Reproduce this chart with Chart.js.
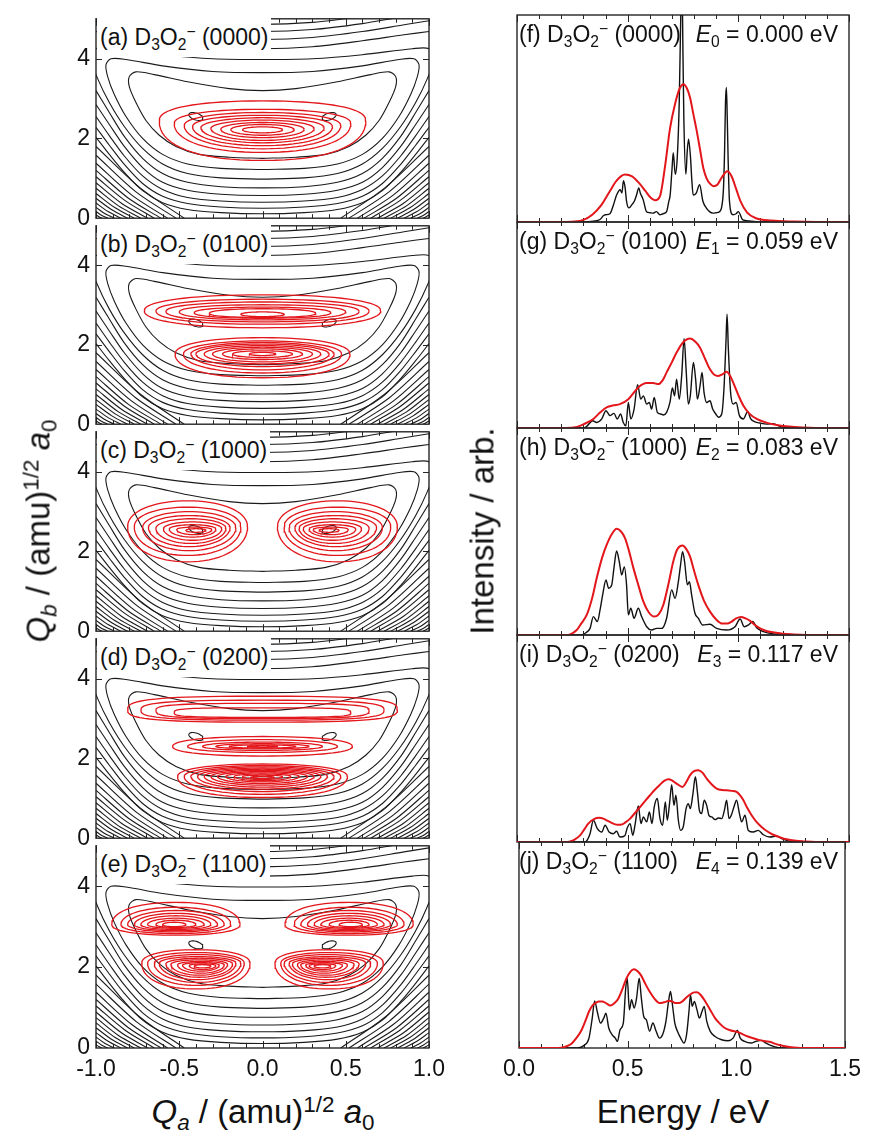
<!DOCTYPE html>
<html><head><meta charset="utf-8">
<script src="https://cdn.jsdelivr.net/npm/chart.js@4.4.1/dist/chart.umd.min.js"></script>
<style>
html,body{margin:0;padding:0;background:#fff;}
#fig{position:relative;width:869px;height:1137px;overflow:hidden;background:#fff;font-family:"Liberation Sans",Arial,Helvetica,sans-serif;color:#111;}
canvas{position:absolute;}
.lab{position:absolute;font-size:23px;line-height:23px;white-space:nowrap;}
.lab.box{background:#fff;}
.s{font-size:0.68em;position:relative;top:0.32em;}
.p{font-size:0.68em;position:relative;top:-0.5em;}
.title{position:absolute;font-size:33px;line-height:33px;white-space:nowrap;}
</style></head>
<body><div id="fig"></div>
<script>
const FONT = '"Liberation Sans", Arial, sans-serif';
// ---------- tick values and labels ----------
const qaMajor = [-1, -0.5, 0, 0.5, 1];
const qaLabels = ['-1.0', '-0.5', '0.0', '0.5', '1.0'];
const qaMinor = [-0.9,-0.8,-0.7,-0.6,-0.4,-0.3,-0.2,-0.1,0.1,0.2,0.3,0.4,0.6,0.7,0.8,0.9];
const qbMajor = [0, 2, 4];
const qbLabels = ['0', '2', '4'];
const eMajor = [0, 0.5, 1, 1.5];
const eLabels = ['0.0', '0.5', '1.0', '1.5'];
const eMinor = [0.1,0.2,0.3,0.4,0.6,0.7,0.8,0.9,1.1,1.2,1.3,1.4];

const leftLetters = ['(a)', '(b)', '(c)', '(d)', '(e)'];
const rightLetters = ['(f)', '(g)', '(h)', '(i)', '(j)'];
const stateLabels = ['(0000)', '(0100)', '(1000)', '(0200)', '(1100)'];
const energyIdx = ['0', '1', '2', '3', '4'];
const energyVals = ['0.000', '0.059', '0.083', '0.117', '0.139'];

// ---------- potential energy surface contours (black), left half ----------
const pesWellMin = [[-0.40, 2.55, 0.042, -0.06, 0.0072, 0.08]];
const pesClosed = [
  [[0,1.5],[-0.2,1.53],[-0.38,1.6],[-0.52,1.8],[-0.62,2.08],[-0.7,2.45],[-0.76,2.9],[-0.8,3.3],[-0.8,3.55],[-0.76,3.67],[-0.65,3.6],[-0.45,3.42],[-0.2,3.25],[0,3.2]],
  [[0,1.22],[-0.25,1.25],[-0.45,1.36],[-0.6,1.6],[-0.72,2.0],[-0.82,2.55],[-0.89,3.1],[-0.93,3.55],[-0.94,3.85],[-0.91,4.0],[-0.82,3.98],[-0.6,3.82],[-0.3,3.68],[0,3.65]],
  [[0,0.98],[-0.25,1.01],[-0.45,1.12],[-0.6,1.36],[-0.72,1.75],[-0.83,2.3],[-0.92,2.9],[-0.99,3.5],[-1.03,4.0],[-1.0,4.25],[-0.9,4.25],[-0.6,4.1],[-0.3,4.0],[0,3.98]]
];
const pesLowerArms = [
  [[0,0.76],[-0.25,0.79],[-0.45,0.9],[-0.6,1.12],[-0.72,1.5],[-0.83,2.05],[-0.92,2.65],[-1.0,3.2]],
  [[0,0.57],[-0.25,0.6],[-0.45,0.7],[-0.6,0.9],[-0.72,1.27],[-0.83,1.8],[-0.92,2.35],[-1.0,2.85]],
  [[0,0.40],[-0.25,0.43],[-0.45,0.52],[-0.6,0.72],[-0.72,1.06],[-0.83,1.56],[-0.92,2.07],[-1.0,2.55]],
  [[0,0.25],[-0.25,0.28],[-0.45,0.37],[-0.6,0.55],[-0.72,0.87],[-0.83,1.35],[-0.92,1.83],[-1.0,2.28]],
  [[0,0.11],[-0.25,0.14],[-0.45,0.22],[-0.6,0.39],[-0.72,0.69],[-0.83,1.15],[-0.92,1.6],[-1.0,2.03]]
];
const pesUpperArms = [
  [[0,4.25],[-0.3,4.3],[-0.6,4.45],[-0.85,4.6],[-1.0,4.68]],
  [[0,4.48],[-0.3,4.53],[-0.6,4.68],[-0.85,4.85],[-1.0,4.95]],
  [[0,4.68],[-0.3,4.73],[-0.6,4.88],[-0.8,5.02]],
  [[0,4.86],[-0.3,4.91],[-0.55,5.03]]
];
const pesCornerArms = [
  [[-0.47,0],[-0.735,0.76],[-1,1.80]],
  [[-0.52,0],[-0.76,0.66],[-1,1.58]],
  [[-0.57,0],[-0.785,0.58],[-1,1.38]],
  [[-0.61,0],[-0.805,0.50],[-1,1.20]],
  [[-0.65,0],[-0.825,0.44],[-1,1.04]],
  [[-0.69,0],[-0.845,0.37],[-1,0.89]],
  [[-0.73,0],[-0.865,0.31],[-1,0.75]],
  [[-0.77,0],[-0.885,0.26],[-1,0.62]],
  [[-0.81,0],[-0.905,0.21],[-1,0.50]],
  [[-0.85,0],[-0.925,0.16],[-1,0.38]],
  [[-0.89,0],[-0.945,0.11],[-1,0.27]],
  [[-0.93,0],[-0.965,0.07],[-1,0.17]],
  [[-0.965,0],[-0.982,0.035],[-1,0.08]]
];

// ---------- wavefunction contours (red): [cx, widest Qb, half width, top, bottom, shape exponent] ----------
const wfA = [
  [0,2.45,0.62,2.94,1.45,2.3],[0,2.38,0.53,2.73,1.65,2.2],[0,2.33,0.47,2.65,1.74,2.1],
  [0,2.30,0.42,2.58,1.82,2.1],[0,2.27,0.37,2.52,1.89,2],[0,2.25,0.31,2.46,1.95,2],
  [0,2.23,0.25,2.40,2.02,2],[0,2.22,0.19,2.35,2.08,2],[0,2.22,0.12,2.29,2.14,2]
];
const wfB = [
  [0,2.86,0.71,3.26,2.43,2.2],[0,2.85,0.64,3.15,2.52,2.2],[0,2.84,0.58,3.08,2.58,2.2],
  [0,2.83,0.50,3.01,2.63,2.2],[0,2.81,0.41,2.95,2.67,2.2],[0,2.79,0.32,2.91,2.69,2.2],
  [0,2.77,0.13,2.83,2.71,2],
  [0,1.77,0.525,2.18,1.17,2.2],[0,1.77,0.475,2.10,1.29,2.1],[0,1.77,0.43,2.06,1.37,2],
  [0,1.77,0.40,2.02,1.45,2],[0,1.77,0.35,1.98,1.52,2],[0,1.77,0.30,1.94,1.57,2],
  [0,1.77,0.24,1.90,1.63,2],[0,1.77,0.18,1.85,1.68,2],[0,1.77,0.08,1.81,1.73,2]
];
const wfC = [
  [-0.45,2.62,0.36,3.27,1.74,2.1],[-0.45,2.62,0.32,3.11,1.90,2.1],[-0.44,2.60,0.28,3.00,2.02,2],
  [-0.44,2.60,0.245,2.90,2.12,2],[-0.43,2.58,0.21,2.82,2.20,2],[-0.42,2.57,0.175,2.74,2.28,2],
  [-0.42,2.56,0.14,2.67,2.36,2],[-0.41,2.55,0.105,2.61,2.42,2],[-0.40,2.53,0.06,2.57,2.48,2]
];
const wfD = [
  [0,3.22,0.81,3.56,2.91,3],[0,3.21,0.73,3.46,2.96,3],[0,3.20,0.64,3.38,3.00,3.2],[0,3.15,0.53,3.27,3.03,3.5],
  [0,2.30,0.54,2.55,2.06,2.2],[0,2.30,0.45,2.47,2.15,2.1],[0,2.30,0.36,2.41,2.20,2],
  [0,2.30,0.28,2.37,2.24,2],[0,2.30,0.20,2.34,2.26,2],[0,2.30,0.09,2.32,2.28,2],
  [0,1.55,0.51,1.86,1.02,2.2],[0,1.55,0.47,1.82,1.10,2.1],[0,1.55,0.43,1.79,1.17,2],
  [0,1.55,0.39,1.76,1.23,2],[0,1.55,0.35,1.73,1.28,2],[0,1.55,0.31,1.70,1.33,2],
  [0,1.55,0.27,1.67,1.37,2],[0,1.55,0.22,1.64,1.41,2],[0,1.55,0.17,1.61,1.44,2],
  [0,1.55,0.12,1.58,1.47,2],[0,1.53,0.07,1.55,1.50,2]
];
const wfE = [
  [-0.52,3.05,0.385,3.60,2.79,2.2],[-0.52,3.05,0.33,3.48,2.83,2.1],[-0.52,3.05,0.29,3.40,2.87,2],
  [-0.52,3.05,0.25,3.33,2.90,2],[-0.52,3.05,0.21,3.27,2.93,2],[-0.52,3.05,0.17,3.21,2.96,2],
  [-0.52,3.05,0.12,3.16,2.98,2],[-0.53,3.05,0.07,3.11,3.00,2],
  [-0.40,2.10,0.325,2.43,1.46,2.2],[-0.40,2.10,0.29,2.36,1.55,2.1],[-0.39,2.10,0.26,2.31,1.62,2],
  [-0.39,2.10,0.23,2.26,1.69,2],[-0.38,2.08,0.20,2.22,1.75,2],[-0.38,2.07,0.17,2.18,1.80,2],
  [-0.37,2.06,0.14,2.14,1.85,2],[-0.37,2.05,0.11,2.11,1.90,2],[-0.36,2.04,0.08,2.08,1.94,2],
  [-0.36,2.03,0.05,2.06,1.98,2]
];
const wfMirror = [false, false, true, false, true];

// ---------- spectra [energy eV, intensity (panel height = 1)] ----------
const specFBlack = [[0,0],[0.30,0],[0.345,0.004],[0.375,0.012],[0.39,0.03],[0.40,0.035],[0.42,0.04],[0.435,0.08],[0.45,0.13],[0.466,0.156],[0.474,0.14],[0.481,0.2],[0.488,0.17],[0.495,0.1],[0.506,0.068],[0.52,0.085],[0.53,0.1],[0.54,0.13],[0.55,0.165],[0.557,0.14],[0.57,0.108],[0.585,0.05],[0.60,0.045],[0.615,0.043],[0.63,0.05],[0.646,0.035],[0.66,0.04],[0.676,0.05],[0.686,0.1],[0.692,0.13],[0.70,0.25],[0.706,0.335],[0.715,0.23],[0.724,0.31],[0.733,0.58],[0.74,1.0],[0.745,1.2],[0.75,0.8],[0.754,0.49],[0.763,0.23],[0.769,0.34],[0.775,0.40],[0.784,0.31],[0.79,0.2],[0.796,0.13],[0.81,0.14],[0.825,0.18],[0.84,0.1],[0.855,0.068],[0.87,0.05],[0.885,0.043],[0.90,0.045],[0.915,0.05],[0.926,0.08],[0.933,0.165],[0.938,0.35],[0.942,0.58],[0.946,0.65],[0.95,0.5],[0.954,0.3],[0.96,0.1],[0.975,0.035],[0.99,0.04],[1.00,0.05],[1.02,0.01],[1.05,0.005],[1.10,0],[1.5,0]];
const specFRed = [[0,0],[0.20,0],[0.26,0.002],[0.30,0.01],[0.34,0.035],[0.38,0.08],[0.42,0.15],[0.45,0.2],[0.488,0.229],[0.52,0.22],[0.55,0.19],[0.58,0.15],[0.60,0.122],[0.625,0.105],[0.646,0.125],[0.669,0.27],[0.691,0.45],[0.714,0.57],[0.735,0.645],[0.752,0.665],[0.768,0.645],[0.782,0.6],[0.797,0.52],[0.812,0.44],[0.827,0.35],[0.842,0.26],[0.857,0.21],[0.872,0.185],[0.887,0.173],[0.905,0.18],[0.925,0.215],[0.95,0.245],[0.97,0.22],[0.99,0.16],[1.01,0.1],[1.04,0.045],[1.08,0.018],[1.15,0.007],[1.25,0.002],[1.35,0],[1.5,0]];
const specGBlack = [[0,0],[0.30,0],[0.315,0.008],[0.342,0.035],[0.36,0.027],[0.383,0.044],[0.402,0.084],[0.42,0.06],[0.438,0.071],[0.453,0.044],[0.468,0.068],[0.48,0.027],[0.492,0.011],[0.503,0.124],[0.514,0.044],[0.529,0.092],[0.545,0.21],[0.559,0.14],[0.571,0.156],[0.586,0.116],[0.598,0.124],[0.608,0.092],[0.62,0.148],[0.634,0.076],[0.649,0.068],[0.661,0.063],[0.676,0.076],[0.691,0.124],[0.702,0.194],[0.712,0.156],[0.721,0.237],[0.733,0.14],[0.744,0.253],[0.755,0.434],[0.764,0.285],[0.774,0.116],[0.783,0.156],[0.797,0.318],[0.807,0.237],[0.815,0.14],[0.827,0.205],[0.836,0.27],[0.845,0.173],[0.857,0.124],[0.872,0.132],[0.884,0.092],[0.898,0.068],[0.91,0.052],[0.925,0.068],[0.935,0.189],[0.944,0.415],[0.949,0.552],[0.955,0.382],[0.965,0.173],[0.977,0.116],[0.99,0.124],[1.005,0.06],[1.023,0.044],[1.042,0.079],[1.056,0.044],[1.075,0.03],[1.098,0.024],[1.128,0.019],[1.158,0.021],[1.188,0.008],[1.233,0],[1.5,0]];
const specGRed = [[0,0],[0.22,0],[0.27,0.005],[0.30,0.018],[0.345,0.044],[0.375,0.075],[0.405,0.1],[0.435,0.11],[0.465,0.116],[0.503,0.14],[0.548,0.197],[0.586,0.218],[0.615,0.218],[0.639,0.213],[0.66,0.235],[0.676,0.27],[0.70,0.32],[0.721,0.366],[0.75,0.415],[0.782,0.434],[0.805,0.42],[0.827,0.39],[0.85,0.335],[0.872,0.285],[0.89,0.26],[0.91,0.253],[0.93,0.262],[0.947,0.273],[0.962,0.255],[0.977,0.22],[1.0,0.16],[1.023,0.108],[1.05,0.07],[1.083,0.044],[1.13,0.025],[1.173,0.015],[1.23,0.007],[1.29,0.003],[1.4,0],[1.5,0]];
const specHBlack = [[0,0],[0.292,0],[0.31,0.01],[0.33,0.032],[0.345,0.089],[0.363,0.065],[0.375,0.12],[0.387,0.194],[0.402,0.266],[0.414,0.226],[0.428,0.242],[0.438,0.323],[0.45,0.406],[0.462,0.355],[0.473,0.29],[0.485,0.329],[0.495,0.242],[0.503,0.097],[0.514,0.129],[0.529,0.081],[0.548,0.129],[0.563,0.089],[0.586,0.04],[0.608,0.024],[0.631,0.032],[0.654,0.032],[0.676,0.081],[0.699,0.218],[0.714,0.177],[0.729,0.258],[0.739,0.339],[0.748,0.403],[0.757,0.355],[0.77,0.242],[0.779,0.258],[0.789,0.194],[0.804,0.105],[0.819,0.081],[0.839,0.048],[0.872,0.052],[0.902,0.032],[0.947,0.024],[0.985,0.04],[1.008,0.077],[1.027,0.04],[1.045,0.048],[1.065,0.065],[1.083,0.035],[1.113,0.016],[1.173,0.003],[1.2,0],[1.5,0]];
const specHRed = [[0,0],[0.22,0],[0.24,0.003],[0.27,0.024],[0.29,0.055],[0.315,0.097],[0.34,0.18],[0.36,0.274],[0.385,0.375],[0.405,0.435],[0.43,0.49],[0.45,0.513],[0.47,0.5],[0.488,0.468],[0.505,0.41],[0.526,0.323],[0.55,0.235],[0.571,0.161],[0.595,0.11],[0.62,0.089],[0.64,0.1],[0.661,0.145],[0.685,0.25],[0.706,0.355],[0.725,0.415],[0.748,0.432],[0.765,0.415],[0.782,0.379],[0.80,0.31],[0.819,0.242],[0.845,0.165],[0.872,0.113],[0.9,0.075],[0.925,0.056],[0.95,0.055],[0.97,0.065],[0.99,0.08],[1.012,0.087],[1.033,0.08],[1.053,0.068],[1.075,0.048],[1.098,0.032],[1.13,0.018],[1.158,0.013],[1.2,0.006],[1.25,0.003],[1.35,0],[1.5,0]];
const specIBlack = [[0,0],[0.307,0],[0.33,0.04],[0.345,0.105],[0.363,0.065],[0.383,0.048],[0.398,0.081],[0.416,0.048],[0.435,0.04],[0.45,0.052],[0.465,0.024],[0.488,0.032],[0.498,0.068],[0.511,0.089],[0.523,0.032],[0.533,0.081],[0.548,0.174],[0.56,0.089],[0.571,0.121],[0.586,0.097],[0.598,0.145],[0.61,0.089],[0.62,0.169],[0.634,0.21],[0.646,0.113],[0.658,0.081],[0.67,0.194],[0.679,0.105],[0.69,0.194],[0.699,0.277],[0.709,0.177],[0.718,0.226],[0.729,0.105],[0.739,0.056],[0.751,0.073],[0.764,0.161],[0.774,0.185],[0.783,0.161],[0.794,0.226],[0.806,0.315],[0.815,0.242],[0.824,0.153],[0.834,0.137],[0.846,0.202],[0.857,0.177],[0.867,0.129],[0.88,0.121],[0.895,0.108],[0.91,0.116],[0.925,0.113],[0.937,0.153],[0.947,0.202],[0.958,0.113],[0.968,0.129],[0.98,0.169],[0.992,0.202],[1.005,0.137],[1.015,0.097],[1.03,0.129],[1.045,0.056],[1.068,0.048],[1.09,0.056],[1.113,0.035],[1.143,0.024],[1.173,0.029],[1.196,0.016],[1.233,0.003],[1.26,0],[1.5,0]];
const specIRed = [[0,0],[0.22,0],[0.24,0.003],[0.26,0.012],[0.285,0.032],[0.305,0.062],[0.322,0.089],[0.352,0.113],[0.37,0.117],[0.39,0.113],[0.41,0.102],[0.435,0.089],[0.455,0.083],[0.473,0.084],[0.49,0.095],[0.511,0.113],[0.533,0.14],[0.556,0.169],[0.58,0.2],[0.601,0.226],[0.625,0.255],[0.646,0.277],[0.665,0.295],[0.684,0.303],[0.70,0.298],[0.721,0.282],[0.748,0.266],[0.765,0.29],[0.782,0.323],[0.80,0.342],[0.819,0.347],[0.838,0.335],[0.857,0.306],[0.88,0.278],[0.902,0.258],[0.925,0.251],[0.947,0.25],[0.97,0.247],[0.992,0.242],[1.008,0.225],[1.023,0.202],[1.04,0.165],[1.06,0.129],[1.08,0.1],[1.105,0.073],[1.13,0.052],[1.158,0.035],[1.19,0.022],[1.218,0.013],[1.26,0.006],[1.294,0.003],[1.35,0],[1.5,0]];
const specJBlack = [[0,0],[0.27,0],[0.3,0.013],[0.322,0.048],[0.337,0.145],[0.348,0.229],[0.36,0.177],[0.375,0.121],[0.39,0.145],[0.4,0.169],[0.413,0.097],[0.428,0.065],[0.443,0.048],[0.453,0.032],[0.465,0.089],[0.48,0.121],[0.491,0.29],[0.498,0.339],[0.508,0.185],[0.518,0.234],[0.53,0.194],[0.541,0.242],[0.553,0.339],[0.563,0.242],[0.574,0.153],[0.586,0.137],[0.601,0.081],[0.616,0.121],[0.631,0.081],[0.646,0.048],[0.661,0.065],[0.676,0.129],[0.688,0.226],[0.697,0.274],[0.706,0.21],[0.717,0.121],[0.729,0.081],[0.744,0.048],[0.759,0.024],[0.771,0.065],[0.782,0.177],[0.789,0.258],[0.797,0.202],[0.807,0.226],[0.819,0.185],[0.83,0.145],[0.842,0.177],[0.852,0.202],[0.864,0.129],[0.88,0.081],[0.902,0.056],[0.932,0.04],[0.962,0.035],[0.985,0.048],[1.005,0.085],[1.018,0.048],[1.038,0.032],[1.068,0.024],[1.09,0.032],[1.113,0.037],[1.136,0.024],[1.158,0.013],[1.188,0.003],[1.22,0],[1.5,0]];
const specJRed = [[0,0],[0.18,0],[0.21,0.005],[0.24,0.019],[0.262,0.045],[0.285,0.081],[0.305,0.13],[0.322,0.177],[0.337,0.205],[0.352,0.218],[0.368,0.226],[0.383,0.226],[0.40,0.218],[0.42,0.206],[0.44,0.218],[0.458,0.242],[0.477,0.29],[0.495,0.339],[0.512,0.37],[0.529,0.382],[0.546,0.372],[0.563,0.35],[0.582,0.31],[0.601,0.274],[0.623,0.24],[0.646,0.218],[0.668,0.222],[0.691,0.229],[0.706,0.225],[0.721,0.218],[0.736,0.218],[0.751,0.226],[0.77,0.245],[0.789,0.261],[0.805,0.27],[0.819,0.271],[0.838,0.255],[0.857,0.226],[0.88,0.185],[0.902,0.145],[0.925,0.117],[0.947,0.097],[0.975,0.085],[1.008,0.077],[1.03,0.066],[1.053,0.056],[1.083,0.046],[1.113,0.037],[1.135,0.033],[1.158,0.029],[1.18,0.02],[1.203,0.013],[1.23,0.007],[1.264,0.003],[1.32,0],[1.5,0]];

// ---------- page layout ----------
const panelTops = [15, 222, 428, 635, 842];
const panelHeights = [207, 206, 207, 207, 206];
const wfPanels = [wfA, wfB, wfC, wfD, wfE];
const specBlack = [specFBlack, specGBlack, specHBlack, specIBlack, specJBlack];
const specRed = [specFRed, specGRed, specHRed, specIRed, specJRed];

const BLACK = '#1b1b1b', RED = '#e3161b';
const fig = document.getElementById('fig');

const mirrorPts = pts => pts.map(([x, y]) => [-x, y]);
const openCurve = half => half.slice().reverse().concat(mirrorPts(half.slice(1)));
const closedCurve = half => half.concat(mirrorPts(half.slice(0, -1).reverse()));
function eggCurve(row) {
  const [cx, cw, hw, top, bot, p] = row, e = 2 / p, pts = [];
  for (let k = 0; k <= 72; k++) {
    const t = k / 72 * 2 * Math.PI, c = Math.cos(t), s = Math.sin(t);
    pts.push([cx + hw * Math.sign(c) * Math.pow(Math.abs(c), e),
              cw + (s >= 0 ? top - cw : cw - bot) * Math.sign(s) * Math.pow(Math.abs(s), e)]);
  }
  return pts;
}
function wellCurve(w) {
  const [cx, cy, ux, uy, vx, vy] = w, pts = [];
  for (let k = 0; k <= 36; k++) {
    const t = k / 36 * 2 * Math.PI;
    pts.push([cx + ux * Math.cos(t) + vx * Math.sin(t), cy + uy * Math.cos(t) + vy * Math.sin(t)]);
  }
  return pts;
}
function ds(pts, color, width, order, tension) {
  return { data: pts.map(([x, y]) => ({ x, y })), borderColor: color, borderWidth: width,
    pointRadius: 0, pointHoverRadius: 0, fill: false, tension, order, spanGaps: true };
}

const framePlugin = {
  id: 'frame',
  beforeDatasetsDraw(chart, args, o) {
    const { ctx, chartArea: a, scales: { x, y } } = chart;
    ctx.save();
    ctx.strokeStyle = '#262626';
    ctx.lineWidth = 1;
    ctx.beginPath();
    const xt = (v, len) => { const px = Math.round(x.getPixelForValue(v)) + 0.5;
      ctx.moveTo(px, a.bottom); ctx.lineTo(px, a.bottom - len);
      ctx.moveTo(px, a.top); ctx.lineTo(px, a.top + len); };
    const yt = (v, len) => { const py = Math.round(y.getPixelForValue(v)) + 0.5;
      ctx.moveTo(a.left, py); ctx.lineTo(a.left + len, py);
      ctx.moveTo(a.right, py); ctx.lineTo(a.right - len, py); };
    (o.xMajor || []).forEach(v => xt(v, 7));
    (o.xMinor || []).forEach(v => xt(v, 4));
    (o.yMajor || []).forEach(v => yt(v, 6));
    ctx.stroke();
    ctx.lineWidth = 1.4;
    ctx.strokeRect(a.left, a.top, a.right - a.left, a.bottom - a.top);
    ctx.restore();
  }
};

function makeCanvas(left, top, w, h) {
  const cv = document.createElement('canvas');
  cv.width = w; cv.height = h;
  Object.assign(cv.style, { left: left + 'px', top: top + 'px', width: w + 'px', height: h + 'px' });
  fig.appendChild(cv);
  return cv;
}
const tickFont = { family: FONT, size: 23 };
const X_AXIS_H = 44;

function leftChart(i) {
  const bottom = i === 4, padT = 16, padB = bottom ? 0 : 16, h = panelHeights[i];
  const H = padT + h + (bottom ? X_AXIS_H : padB);
  const cv = makeCanvas(0, panelTops[i] - padT, 460, H);
  const sets = [];
  pesWellMin.forEach(w => { sets.push(ds(wellCurve(w), BLACK, 1.1, 2, 0)); sets.push(ds(mirrorPts(wellCurve(w)), BLACK, 1.1, 2, 0)); });
  pesClosed.forEach(c => sets.push(ds(closedCurve(c), BLACK, 1.1, 2, 0.3)));
  pesLowerArms.forEach(c => sets.push(ds(openCurve(c), BLACK, 1.1, 2, 0.3)));
  pesUpperArms.forEach(c => sets.push(ds(openCurve(c), BLACK, 1.1, 2, 0.3)));
  pesCornerArms.forEach(c => { sets.push(ds(c, BLACK, 1.1, 2, 0.3)); sets.push(ds(mirrorPts(c), BLACK, 1.1, 2, 0.3)); });
  wfPanels[i].forEach(r => {
    sets.push(ds(eggCurve(r), RED, 1.3, 1, 0));
    if (wfMirror[i]) sets.push(ds(mirrorPts(eggCurve(r)), RED, 1.3, 1, 0));
  });
  new Chart(cv, {
    type: 'line', data: { datasets: sets }, plugins: [framePlugin],
    options: {
      responsive: false, animation: false, devicePixelRatio: 1, events: [],
      layout: { padding: { top: padT, bottom: padB, left: 0, right: 31 } },
      plugins: { legend: { display: false }, tooltip: { enabled: false },
        frame: { xMajor: qaMajor, xMinor: qaMinor, yMajor: [2, 4] } },
      scales: {
        x: { type: 'linear', min: -1, max: 1, display: bottom,
          grid: { display: false, drawTicks: false }, border: { display: false },
          afterBuildTicks: s => { s.ticks = qaMajor.map(v => ({ value: v })); },
          afterFit: s => { s.height = bottom ? X_AXIS_H : 0; },
          ticks: { padding: 8, color: '#111', font: tickFont, autoSkip: false, maxRotation: 0,
            callback: (v, k) => qaLabels[k] } },
        y: { type: 'linear', min: 0, max: 5,
          grid: { display: false, drawTicks: false }, border: { display: false },
          afterBuildTicks: s => { s.ticks = qbMajor.map(v => ({ value: v })); },
          afterFit: s => { s.width = 96; },
          ticks: { padding: 6, color: '#111', font: tickFont, autoSkip: false,
            callback: (v, k) => qbLabels[k] } }
      }
    }
  });
}

function rightChart(i) {
  const bottom = i === 4, padT = 16, padB = bottom ? 0 : 16, h = panelHeights[i];
  const H = padT + h + (bottom ? X_AXIS_H : padB);
  const cv = makeCanvas(495, panelTops[i] - padT, 374, H);
  const sets = [ds(specBlack[i], '#111', 1.4, 2, 0.4), ds(specRed[i], RED, 2, 1, 0.4)];
  sets[0].cubicInterpolationMode = 'monotone';
  sets[1].cubicInterpolationMode = 'monotone';
  new Chart(cv, {
    type: 'line', data: { datasets: sets }, plugins: [framePlugin],
    options: {
      responsive: false, animation: false, devicePixelRatio: 1, events: [],
      layout: { padding: { top: padT, bottom: padB, left: 22, right: 20 } },
      plugins: { legend: { display: false }, tooltip: { enabled: false },
        frame: { xMajor: eMajor, xMinor: eMinor, yMajor: [] } },
      scales: {
        x: { type: 'linear', min: 0, max: 1.5, display: bottom,
          grid: { display: false, drawTicks: false }, border: { display: false },
          afterBuildTicks: s => { s.ticks = eMajor.map(v => ({ value: v })); },
          afterFit: s => { s.height = bottom ? X_AXIS_H : 0; },
          ticks: { padding: 8, color: '#111', font: tickFont, autoSkip: false, maxRotation: 0,
            callback: (v, k) => eLabels[k] } },
        y: { type: 'linear', min: 0, max: 1, display: false,
          afterFit: s => { s.width = 0; } }
      }
    }
  });
}

for (let i = 0; i < 5; i++) { leftChart(i); rightChart(i); }

// ---------- text ----------
function addDiv(cls, style, html) {
  const d = document.createElement('div');
  d.className = cls; d.setAttribute('style', style); d.innerHTML = html; fig.appendChild(d);
}
const mol = 'D<span class="s">3</span>O<span class="s">2</span><span class="p">&minus;</span>';
for (let i = 0; i < 5; i++) {
  const t = panelTops[i];
  addDiv('lab box', `left:97px;top:${t + 1}px;padding:10px 3px 6px 3px;`, `${leftLetters[i]} ${mol} ${stateLabels[i]}`);
  addDiv('lab', `left:519px;top:${t + 8}px;`, `${rightLetters[i]} ${mol} ${stateLabels[i]}`);
  addDiv('lab', `right:31px;top:${t + 8}px;`, `<i>E</i><span class="s">${energyIdx[i]}</span> = ${energyVals[i]} eV`);
}
addDiv('title', 'left:40px;top:531px;transform:translate(-50%,-50%) rotate(-90deg);',
  '<i>Q</i><span class="s"><i>b</i></span> / (amu)<span class="p">1/2</span> <i>a</i><span class="s">0</span>');
addDiv('title', 'left:482px;top:531px;transform:translate(-50%,-50%) rotate(-90deg);', 'Intensity / arb.');
addDiv('title', 'left:263px;top:1095px;transform:translateX(-50%);',
  '<i>Q</i><span class="s"><i>a</i></span> / (amu)<span class="p">1/2</span> <i>a</i><span class="s">0</span>');
addDiv('title', 'left:683px;top:1095px;transform:translateX(-50%);', 'Energy / eV');
</script>
</body></html>
